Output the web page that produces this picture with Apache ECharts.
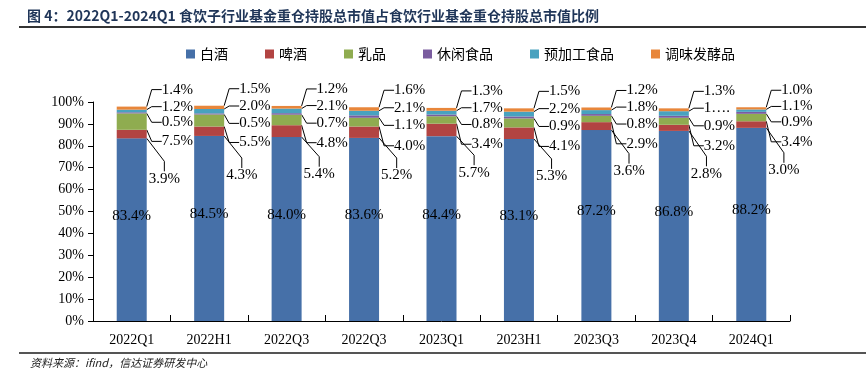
<!DOCTYPE html>
<html><head><meta charset="utf-8">
<script src="https://cdn.jsdelivr.net/npm/echarts@6/dist/echarts.min.js"></script>
<style>html,body{margin:0;padding:0;background:#fff}#c{width:866px;height:385px}</style>
</head><body><div id="c"></div>
<script>
// ---- data ----
const categories = ['2022Q1','2022H1','2022Q3','2022Q3','2023Q1','2023H1','2023Q3','2023Q4','2024Q1'];
const seriesNames = ['白酒','啤酒','乳品','休闲食品','预加工食品','调味发酵品'];
const baijiu    = [83.4, 84.5, 84.0, 83.6, 84.4, 83.1, 87.2, 86.8, 88.2];
const pijiu     = [3.9, 4.3, 5.4, 5.2, 5.7, 5.3, 3.6, 2.8, 3.0];
const rupin     = [7.5, 5.5, 4.8, 4.0, 3.4, 4.1, 2.9, 3.2, 3.4];
const xiuxian   = [0.5, 0.5, 0.7, 1.1, 0.8, 0.9, 0.8, 0.9, 0.9];
const yujiagong = [1.2, 2.0, 2.1, 2.1, 1.7, 2.2, 1.8, 2.1, 1.1];
const tiaowei   = [1.4, 1.5, 1.2, 1.6, 1.3, 1.5, 1.2, 1.3, 1.0];
const yTickMax = 100, yTickStep = 10;
// label shown truncated in the original (series index, data index, text)
const truncatedLabels = [[4, 7, '1….']];

// ---- style ----
const colors = ['#4670a8','#b24442','#8fac50','#7a5c9f','#48a2bf','#e8863a'];
const serif = '"Liberation Serif","Times New Roman",serif';
const cjk = '"Noto Sans CJK SC","Noto Sans",sans-serif';
// label offsets relative to each segment rect: [dx from bar right, dy from segment top]
const labelOffsets = [null, [2, 49], [15, 28], [15, 10], [15, -3], [15, -17]];

const allValues = [baijiu, pijiu, rupin, xiuxian, yujiagong, tiaowei];

function fmt(si) {
  return function (p) {
    for (const t of truncatedLabels) if (t[0] === si && t[1] === p.dataIndex) return t[2];
    return p.value.toFixed(1) + '%';
  };
}

const series = seriesNames.map((name, si) => {
  const s = {
    name, type: 'bar', stack: 'total', barWidth: 30,
    data: allValues[si],
    itemStyle: { color: colors[si] },
    label: {
      show: true, formatter: fmt(si), color: '#000',
      fontFamily: serif, fontSize: 15,
      position: si === 0 ? 'inside' : 'right'
    },
    emphasis: { disabled: true },
    animation: false
  };
  if (si === 0) {
    s.label.offset = [0, -14];
  } else {
    const off = labelOffsets[si];
    s.labelLine = { show: true, length2: 10, lineStyle: { color: '#000', width: 1 } };
    s.labelLayout = function (p) {
      const r = p.rect;
      return { x: r.x + r.width + off[0], y: r.y + off[1], align: 'left', verticalAlign: 'middle' };
    };
  }
  return s;
});

const chart = echarts.init(document.getElementById('c'), null, { renderer: 'canvas' });
chart.setOption({
  backgroundColor: '#fff',
  animation: false,
  title: {
    text: '图 4：2022Q1-2024Q1 食饮子行业基金重仓持股总市值占食饮行业基金重仓持股总市值比例',
    left: 22, top: 4,
    textStyle: { fontFamily: cjk, fontSize: 14, fontWeight: 'bold', color: '#1f3558' }
  },
  legend: {
    data: seriesNames, left: 181, top: 42,
    itemWidth: 9, itemHeight: 9, itemGap: 37, icon: 'rect',
    textStyle: { fontFamily: cjk, fontSize: 14, color: '#000' }
  },
  grid: { left: 93, right: 76, top: 102, bottom: 64 },
  xAxis: {
    type: 'category', data: categories,
    axisLine: { lineStyle: { color: '#000', width: 1 } },
    axisTick: { show: true, inside: true, length: 6, lineStyle: { color: '#000' } },
    axisLabel: { fontFamily: serif, fontSize: 14, color: '#000', margin: 12 }
  },
  yAxis: {
    type: 'value', min: 0, max: yTickMax, interval: yTickStep,
    splitLine: { show: false },
    axisLine: { show: true, lineStyle: { color: '#000', width: 1 } },
    axisTick: { show: true, length: 5, lineStyle: { color: '#000' } },
    axisLabel: { formatter: '{value}%', fontFamily: serif, fontSize: 14, color: '#000', margin: 9 }
  },
  graphic: [
    { type: 'line', shape: { x1: 19, y1: 27, x2: 866, y2: 27 }, style: { stroke: '#333', lineWidth: 2 } },
    { type: 'line', shape: { x1: 19, y1: 353, x2: 866, y2: 353 }, style: { stroke: '#555', lineWidth: 2 } },
    { type: 'text', left: 30, top: 357, style: { text: '资料来源：ifind，信达证券研发中心', font: 'italic 11px "Noto Sans CJK SC", sans-serif', fill: '#222' } }
  ],
  series
});
</script></body></html>
